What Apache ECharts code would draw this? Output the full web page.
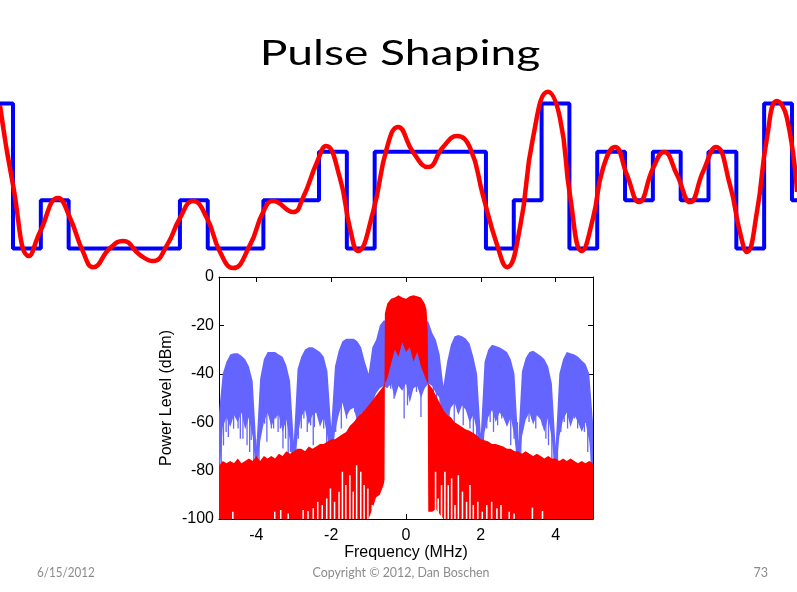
<!DOCTYPE html>
<html><head><meta charset="utf-8">
<script src="https://cdn.jsdelivr.net/npm/echarts@6/dist/echarts.min.js"></script>
<style>html,body{margin:0;padding:0;background:#fff}#c{width:797px;height:592px}</style>
</head><body><div id="c"></div>
<script>
// ---------- Top panel: 4-level symbols (one per symbol period) ----------
const symbolLevels = [3,-3,-1,-3,-3,-3,-3,-1,-3,-3,-1,-1,1,-3,1,1,1,1,-3,-1,3,-3,1,-1,1,-1,1,-3,3,-1];
// pulse-shaped waveform, time in symbol periods, amplitude in symbol units
const shapedTime = [-0.47,0,0.58,0.97,1.62,2.05,2.52,2.88,3.49,3.95,4.57,5.03,5.54,6.00,6.47,6.97,7.44,7.91,8.52,8.99,9.35,10.07,10.42,10.93,11.25,11.75,12.11,12.40,12.94,13.44,13.84,14.38,14.92,15.46,15.96,16.43,16.89,17.40,17.76,18.22,18.69,19.23,19.66,20.02,20.45,20.85,21.21,21.64,22.07,22.50,23.01,23.40,23.87,24.34,24.80,25.27,25.77,26.13,26.38,26.74,27.10,27.46,27.82,28.18];
const shapedValue = [2.94,-0.37,-3.31,-2.32,-0.91,-1.74,-3.14,-3.77,-2.98,-2.69,-3.27,-3.52,-2.85,-1.74,-1.03,-1.74,-3.14,-3.81,-2.85,-1.49,-1.03,-1.49,-0.91,0.58,1.24,-0.08,-2.15,-3.10,-1.49,1.16,2.03,0.99,0.37,1.20,1.65,1.16,-0.79,-2.85,-3.77,-2.15,1.57,3.48,2.40,-0.79,-3.10,-1.74,0.33,1.20,0.04,-1.08,0.33,0.99,0.04,-1.08,0.17,1.20,-0.37,-2.32,-3.14,-1.49,1.57,3.10,2.40,-0.66];

// ---------- Spectrum (MHz, dBm) ----------
const blueFreq = [-5,-4.9,-4.8,-4.7,-4.6,-4.5,-4.4,-4.3,-4.2,-4.1,-4,-3.9,-3.8,-3.7,-3.6,-3.5,-3.4,-3.3,-3.2,-3.1,-3,-2.9,-2.8,-2.7,-2.6,-2.5,-2.4,-2.3,-2.2,-2.1,-2,-1.9,-1.8,-1.7,-1.6,-1.5,-1.4,-1.3,-1.2,-1.1,-1,-0.9,-0.8,-0.7,-0.6,-0.5,-0.4,-0.3,-0.2,-0.1,0,0.1,0.2,0.3,0.4,0.5,0.6,0.7,0.8,0.9,1,1.1,1.2,1.3,1.4,1.5,1.6,1.7,1.8,1.9,2,2.1,2.2,2.3,2.4,2.5,2.6,2.7,2.8,2.9,3,3.1,3.2,3.3,3.4,3.5,3.6,3.7,3.8,3.9,4,4.1,4.2,4.3,4.4,4.5,4.6,4.7,4.8,4.9,5];
const blueHigh = [-56,-40,-35,-32,-31.5,-31.5,-32.5,-34,-37,-43,-70,-42,-34,-31,-31,-31,-32,-33,-36.5,-43,-68,-38,-33,-30,-29,-29,-30,-31,-33,-39,-62,-37,-30.5,-26.5,-25.5,-25.5,-25.5,-26.5,-29,-35,-40,-29,-26,-20,-18,-18,-18,-18,-18,-18,-18,-18,-18,-18,-18,-18,-18.5,-23,-26,-32,-45,-35,-28,-24.5,-24,-24.5,-25.5,-27.5,-33,-40,-65,-35,-30,-28,-28.5,-29,-30,-31,-34,-40,-68,-39,-33.5,-31,-30.5,-31.5,-32.5,-34,-37,-44,-70,-40,-34,-31,-31.5,-32,-33,-34.5,-36,-40,-60];
const blueLow = [-85,-62,-58,-62,-57,-60,-56,-63,-58,-66,-82,-68,-60,-56,-62,-58,-57,-64,-59,-68,-82,-66,-58,-55,-61,-57,-56,-62,-58,-66,-80,-64,-57,-52,-58,-55,-54,-60,-56,-58,-62,-52,-48,-46,-45,-46,-44,-50,-45,-47,-44,-52,-46,-45,-50,-46,-44,-45,-48,-50,-60,-60,-54,-52,-57,-53,-55,-60,-57,-64,-80,-64,-58,-55,-60,-56,-58,-62,-58,-66,-82,-66,-59,-56,-61,-57,-59,-64,-58,-67,-83,-66,-59,-56,-62,-57,-60,-64,-60,-68,-84];
// individual deep blue spikes below the dense band (frequency, lowest dBm)
const blueSpikeFreq = [-4.94,-4.88,-4.81,-4.75,-4.67,-4.61,-4.52,-4.49,-4.43,-4.36,-4.31,-4.25,-4.18,-4.14,-4.07,-4.02,-3.93,-3.87,-3.78,-3.72,-3.66,-3.60,-3.54,-3.48,-3.42,-3.36,-3.29,-3.22,-3.15,-3.09,-3.04,-2.95,-2.88,-2.80,-2.73,-2.64,-2.55,-2.48,-2.45,-2.39,-2.33,-2.27,-2.20,-2.12,-2.06,-1.95,-1.88,-1.79,-1.73,-1.66,-1.59,-1.53,-1.44,-1.37,-1.30,-1.21,-1.14,-1.08,-1.02,-0.41,-0.32,-0.18,-0.05,0.04,0.15,0.28,0.40,0.46,0.73,0.82,0.91,0.97,1.09,1.15,1.22,1.29,1.38,1.44,1.53,1.62,1.71,1.80,1.89,2.07,2.16,2.25,2.34,2.45,2.56,2.67,2.74,2.80,2.89,2.98,3.07,3.13,3.20,3.29,3.38,3.47,3.56,3.65,3.74,3.81,3.90,3.96,4.05,4.14,4.23,4.32,4.41,4.50,4.59,4.68,4.77,4.86,4.95];
const blueSpikeLow = [-80.5,-69.6,-64,-66.1,-57.1,-62.7,-58.5,-62.6,-66.8,-66.8,-57.1,-69.5,-72.3,-67.4,-77.8,-81.9,-79.1,-62.6,-60.6,-68.1,-57.1,-62.6,-62.6,-58.5,-64,-62.6,-70.9,-66.8,-75,-72.3,-80.5,-75,-66.8,-62.6,-58.5,-64,-61.3,-69.5,-62,-55.8,-58.5,-54.4,-62.6,-69.5,-75,-70.9,-64,-54.4,-62.6,-53,-58.5,-54.4,-50.3,-55.8,-47.5,-57.1,-59.9,-66.8,-69.5,-46.2,-50.3,-44.8,-58.5,-53,-43.4,-47.5,-57.8,-46.2,-55.8,-53,-55.8,-61.3,-62.6,-58.5,-53,-59.9,-55.8,-50.3,-61.3,-54.4,-62.6,-65.4,-66.8,-69.5,-62.6,-59.9,-64,-61.3,-58.5,-58.5,-55.8,-69.5,-66.8,-75,-73.6,-62.6,-54.4,-59.9,-58.5,-62.6,-57.1,-61.3,-66.8,-69.5,-75,-80.5,-79.1,-64,-59.9,-62.6,-55.8,-58.5,-62.6,-61.3,-64,-72.3,-83.2];

const redFreq = [-5,-4.9,-4.8,-4.7,-4.6,-4.5,-4.4,-4.3,-4.2,-4.1,-4,-3.9,-3.8,-3.7,-3.6,-3.5,-3.4,-3.3,-3.2,-3.1,-3,-2.9,-2.8,-2.7,-2.6,-2.5,-2.4,-2.3,-2.2,-2.1,-2,-1.9,-1.8,-1.7,-1.6,-1.5,-1.4,-1.3,-1.2,-1.1,-1,-0.9,-0.8,-0.7,-0.6,-0.575,-0.565,-0.5,-0.4,-0.3,-0.2,-0.1,0,0.1,0.2,0.3,0.4,0.5,0.55,0.58,0.595,0.7,0.8,0.9,1,1.1,1.2,1.3,1.4,1.5,1.6,1.7,1.8,1.9,2,2.1,2.2,2.3,2.4,2.5,2.6,2.7,2.8,2.9,3,3.1,3.2,3.3,3.4,3.5,3.6,3.7,3.8,3.9,4,4.1,4.2,4.3,4.4,4.5,4.6,4.7,4.8,4.9,5];
const redHigh = [-78,-76,-77,-76,-77,-75,-77,-76,-75,-76,-74,-76,-74,-75,-74,-75,-73,-74,-72,-73,-72,-71,-71,-72,-70,-71,-70,-69,-69,-68,-67,-67,-66,-65,-64,-61.5,-60,-58,-56.5,-55,-53,-51,-49,-47,-45,-44,-15,-11,-9,-8.5,-7.5,-8.5,-9,-8,-7.5,-8,-8.5,-11,-13.5,-22,-44,-46,-49,-52,-55,-57,-58,-60,-61,-62,-63,-63.5,-64.5,-65.5,-67,-67.5,-68,-69,-69,-69.5,-70,-71,-71,-72,-72,-73,-72,-73,-74,-73,-74,-75,-74,-75,-75,-76,-75,-76,-75,-76,-77,-76,-77,-76,-77];
const redLow = [-100,-100,-100,-100,-100,-100,-100,-100,-100,-100,-100,-100,-100,-100,-100,-100,-100,-100,-100,-100,-100,-100,-100,-100,-100,-100,-100,-100,-100,-100,-100,-100,-100,-100,-100,-100,-100,-100,-100,-100,-100,-96,-91,-90,-86,-84,-44,-42,-36,-30,-33,-27,-31,-29,-35,-31,-37,-41,-43,-44,-97,-97,-96,-98,-100,-100,-100,-100,-100,-100,-100,-100,-100,-100,-100,-100,-100,-100,-100,-100,-100,-100,-100,-100,-100,-100,-100,-100,-100,-100,-100,-100,-100,-100,-100,-100,-100,-100,-100,-100,-100,-100,-100,-100,-100];
// gaps at the bottom of the red trace (frequency, highest dBm of the gap)
const redGapFreq = [-4.63,-3.51,-3.35,-3.15,-2.75,-2.62,-2.48,-2.36,-2.24,-2.12,-2.02,-1.91,-1.79,-1.70,-1.61,-1.50,-1.41,-1.32,-1.21,-1.12,-1.02,-0.90,0.79,0.86,0.95,1.04,1.13,1.22,1.31,1.40,1.51,1.62,1.71,1.80,1.92,2.04,2.16,2.29,2.43,2.54,2.76,2.89,3.38,3.65];
const redGapTop = [-97,-97,-96.3,-97.7,-96.3,-96.7,-95.6,-92.9,-94.2,-91.5,-87.4,-92.9,-88.7,-80.5,-86,-81.9,-88.7,-77.8,-80.5,-86,-87.4,-94.2,-80.5,-91.5,-86,-80.5,-86,-83.2,-94.2,-81.9,-88.7,-92.9,-86,-94.2,-92.9,-97,-94.2,-92.9,-95.6,-94.2,-97,-97.7,-95.3,-96.7];

const freqTicks = [-4,-2,0,2,4];
const powerTicks = [-100,-80,-60,-40,-20,0];

const FONT = 'Liberation Sans, Arial, sans-serif';
const chart = echarts.init(document.getElementById('c'));

const stepData = symbolLevels.map((v, k) => [k - 1, v]);
stepData.push([symbolLevels.length - 1, symbolLevels[symbolLevels.length - 1]]);
const shapedData = shapedTime.map((t, i) => [t, shapedValue[i]]);

function band(freq, hi, lo, color) {
  return {
    type: 'custom', xAxisIndex: 1, yAxisIndex: 1, clip: true, silent: true,
    data: freq.map((f, i) => [f, hi[i], lo[i]]),
    encode: {x: 0, y: [1, 2]},
    renderItem: function (params, api) {
      if (params.dataIndex !== 0) return null;
      const pts = [];
      for (let i = 0; i < freq.length; i++) pts.push(api.coord([freq[i], hi[i]]));
      for (let i = freq.length - 1; i >= 0; i--) pts.push(api.coord([freq[i], lo[i]]));
      return {type: 'polygon', shape: {points: pts}, style: {fill: color}};
    }
  };
}
// vertical strokes: each item [freq, from, to]
function strokes(data, color, width) {
  return {
    type: 'custom', xAxisIndex: 1, yAxisIndex: 1, clip: true, silent: true,
    data: data, encode: {x: 0, y: [1, 2]},
    renderItem: function (params, api) {
      const a = api.coord([api.value(0), api.value(1)]);
      const b = api.coord([api.value(0), api.value(2)]);
      return {type: 'line', shape: {x1: a[0], y1: a[1], x2: b[0], y2: b[1]}, style: {stroke: color, lineWidth: width}};
    }
  };
}
const SPIKE_LEN = 15;
const blueSpikeData = blueSpikeFreq.map((f, i) => [f, blueSpikeLow[i] + SPIKE_LEN, blueSpikeLow[i]]);
const redGapData = redGapFreq.map((f, i) => [f, -100, redGapTop[i]]);

const axisLineStyle = {show: true, onZero: false, lineStyle: {color: '#000', width: 1}};

chart.setOption({
  animation: false,
  backgroundColor: '#ffffff',
  grid: [
    {left: 0, top: 79.3, width: 797, height: 193.4},
    {left: 219, top: 277, width: 374, height: 242}
  ],
  xAxis: [
    {gridIndex: 0, type: 'value', min: -0.4673, max: 28.181, show: false},
    {gridIndex: 1, type: 'value', min: -5, max: 5, axisLine: axisLineStyle,
     axisTick: {show: true, inside: true, length: 5, customValues: freqTicks, lineStyle: {color: '#000'}},
     axisLabel: {customValues: freqTicks, color: '#000', fontSize: 16, fontFamily: FONT, margin: 9},
     splitLine: {show: false},
     name: 'Frequency (MHz)', nameLocation: 'middle', nameGap: 22,
     nameTextStyle: {color: '#000', fontSize: 16, fontFamily: FONT}},
    {gridIndex: 1, type: 'value', position: 'top', min: -5, max: 5, axisLine: axisLineStyle,
     axisTick: {show: true, inside: true, length: 5, customValues: freqTicks, lineStyle: {color: '#000'}},
     axisLabel: {show: false}, splitLine: {show: false}}
  ],
  yAxis: [
    {gridIndex: 0, type: 'value', min: -4, max: 4, show: false},
    {gridIndex: 1, type: 'value', min: -100, max: 0, interval: 20, axisLine: axisLineStyle,
     axisTick: {show: true, inside: true, length: 5, customValues: powerTicks, lineStyle: {color: '#000'}},
     axisLabel: {customValues: powerTicks, color: '#000', fontSize: 16, fontFamily: FONT, margin: 5},
     splitLine: {show: false},
     name: 'Power Level (dBm)', nameLocation: 'middle', nameGap: 44, nameRotate: 90,
     nameTextStyle: {color: '#000', fontSize: 16, fontFamily: FONT}},
    {gridIndex: 1, type: 'value', position: 'right', min: -100, max: 0, interval: 20, axisLine: axisLineStyle,
     axisTick: {show: true, inside: true, length: 5, customValues: powerTicks, lineStyle: {color: '#000'}},
     axisLabel: {show: false}, splitLine: {show: false}}
  ],
  series: [
    {type: 'line', xAxisIndex: 0, yAxisIndex: 0, data: stepData, step: 'end', showSymbol: false,
     lineStyle: {color: '#0000ff', width: 4}, silent: true},
    {type: 'line', xAxisIndex: 0, yAxisIndex: 0, data: shapedData, smooth: 0.5, showSymbol: false,
     lineStyle: {color: '#ff0000', width: 4.5}, silent: true},
    strokes(blueSpikeData, '#6464ff', 1.3),
    band(blueFreq, blueHigh, blueLow, '#6464ff'),
    band(redFreq, redHigh, redLow, '#ff0000'),
    strokes(redGapData, '#ffffff', 1.5)
  ],
  graphic: [
    {type: 'text', x: 400, y: 54, scaleX: 1.32,
     style: {text: 'Pulse Shaping', font: '35px Lato', fill: '#000', textAlign: 'center', textVerticalAlign: 'middle'}},
    {type: 'text', x: 37, y: 572, scaleX: 0.83,
     style: {text: '6/15/2012', font: '14px Lato', fill: '#8b8b8b', textAlign: 'left', textVerticalAlign: 'middle'}},
    {type: 'text', x: 401, y: 572, scaleX: 0.885,
     style: {text: 'Copyright \u00a9 2012, Dan Boschen', font: '14px Lato', fill: '#8b8b8b', textAlign: 'center', textVerticalAlign: 'middle'}},
    {type: 'text', x: 768, y: 572, scaleX: 0.9,
     style: {text: '73', font: '14px Lato', fill: '#8b8b8b', textAlign: 'right', textVerticalAlign: 'middle'}}
  ]
});
</script></body></html>
